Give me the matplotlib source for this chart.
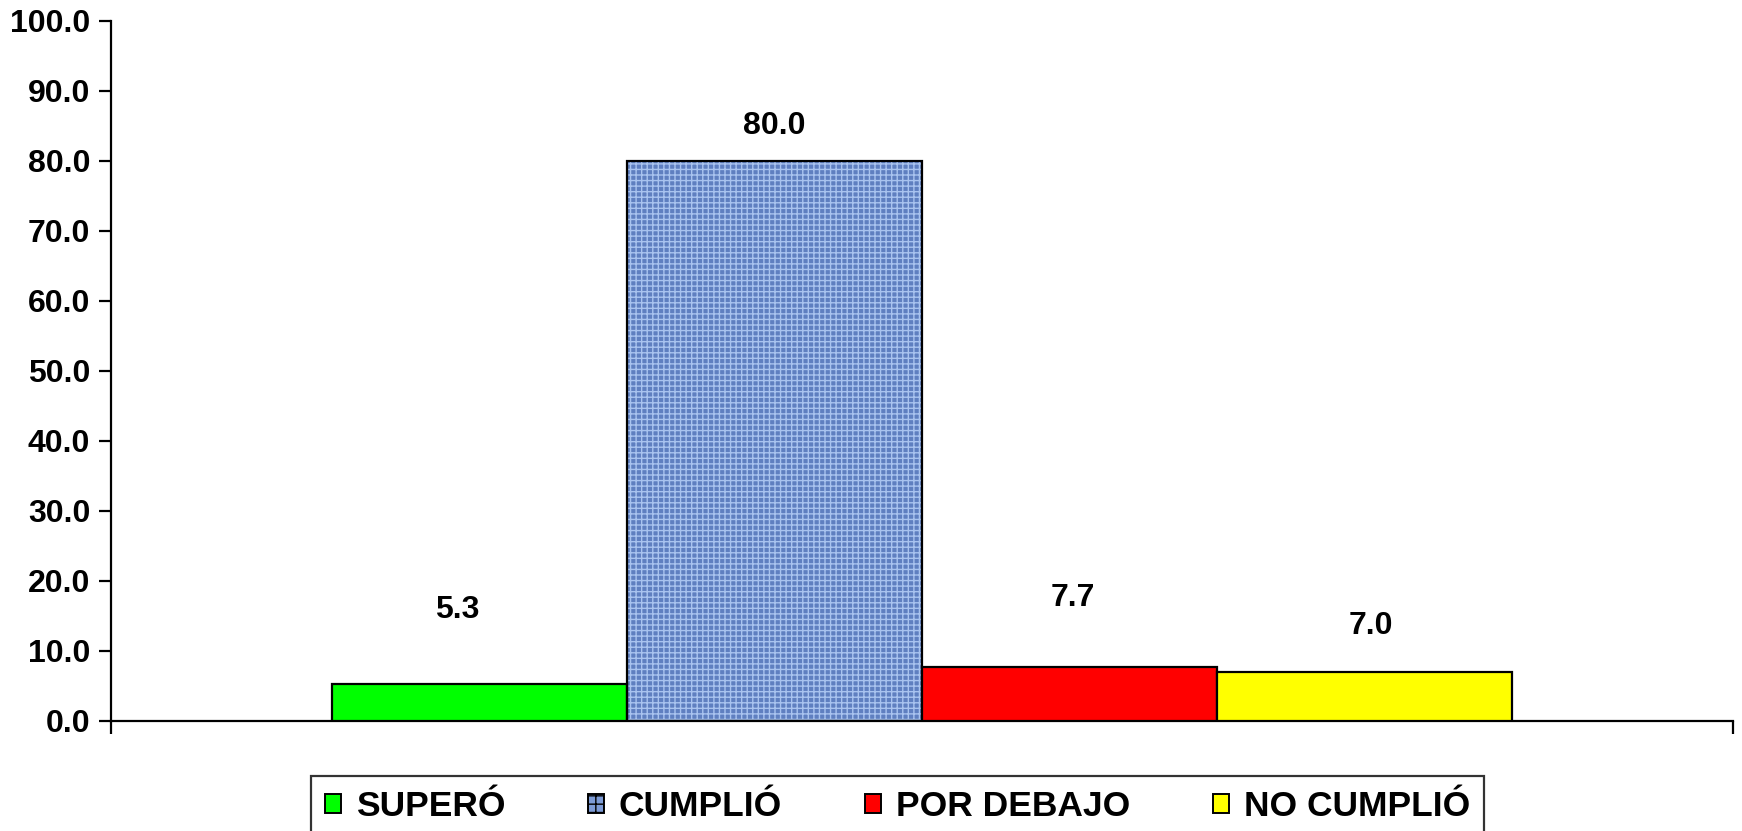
#!/usr/bin/env python
# grouped bar chart: percentage of compliance by category
import numpy as np
import matplotlib
matplotlib.use('Agg')
import matplotlib.pyplot as plt
import matplotlib.patches as mpatches

categories = ['SUPERÓ', 'CUMPLIÓ', 'POR DEBAJO', 'NO CUMPLIÓ']
values = [5.3, 80.0, 7.7, 7.0]
colors = ['#00ff00', '#5f7fc0', '#ff0000', '#ffff00']
# labels were nudged by hand in the original, offset above bar top (data units)
label_offsets = [10.6, 5.0, 9.9, 6.6]
label_shift = [-0.014, 0.0, 0.002, 0.004]
yticks = np.arange(0, 101, 10)

FS = 23
LEG_FS = 25.5
plt.rcParams['font.family'] = ['Liberation Sans', 'DejaVu Sans']
plt.rcParams['font.weight'] = 'bold'
plt.rcParams['font.size'] = FS

fig = plt.figure(figsize=(17.42, 8.31), dpi=100)
ax = fig.add_axes([111 / 1742, 1 - 721 / 831, 1622 / 1742, 700 / 831])

group_width = 0.727
bar_width = group_width / len(values)
ind = -group_width / 2 + bar_width * (np.arange(len(values)) + 0.5)

for i, (x, v, c) in enumerate(zip(ind, values, colors)):
    if i == 1:
        # textured bar: hatch fill then black outline on top
        ax.bar(x, v, bar_width, color=c, hatch='+++', edgecolor='#a9c3ef',
               linewidth=0, zorder=2)
        ax.bar(x, v, bar_width, fill=False, edgecolor='black', linewidth=1.6,
               zorder=3)
    else:
        ax.bar(x, v, bar_width, color=c, edgecolor='black', linewidth=1.6,
               zorder=3)
    ax.text(x + label_shift[i], v + label_offsets[i], '%.1f' % v,
            ha='center', va='center', fontsize=FS, fontweight='bold')

ax.set_xlim(-0.5, 0.5)
ax.set_ylim(0, 100)
ax.set_yticks(yticks)
ax.set_yticklabels(['%.1f' % t for t in yticks])
ax.set_xticks([-0.5, 0.5])
ax.set_xticklabels([])
ax.tick_params(axis='both', direction='out', length=9, width=1.6, pad=6)
for side in ('top', 'right'):
    ax.spines[side].set_visible(False)
for side in ('left', 'bottom'):
    ax.spines[side].set_linewidth(1.6)
ax.spines['left'].set_zorder(4)

handles = [mpatches.Patch(facecolor=c, edgecolor='black', linewidth=1.4)
           for c in colors]
handles[1] = mpatches.Patch(facecolor='#7d9bd6', edgecolor='black',
                            linewidth=1.4, hatch='++')
leg = fig.legend(handles, categories, loc='upper center',
                 bbox_to_anchor=(897.5 / 1742, 1 - 776 / 831), ncol=4,
                 frameon=True, fancybox=False, edgecolor='black',
                 handlelength=0.45, handleheight=0.45, handletextpad=0.41,
                 columnspacing=2.35, borderpad=0.4, borderaxespad=0,
                 prop={'weight': 'bold', 'size': LEG_FS})
leg.get_frame().set_linewidth(1.6)

fig.savefig('out.png', dpi=100)
